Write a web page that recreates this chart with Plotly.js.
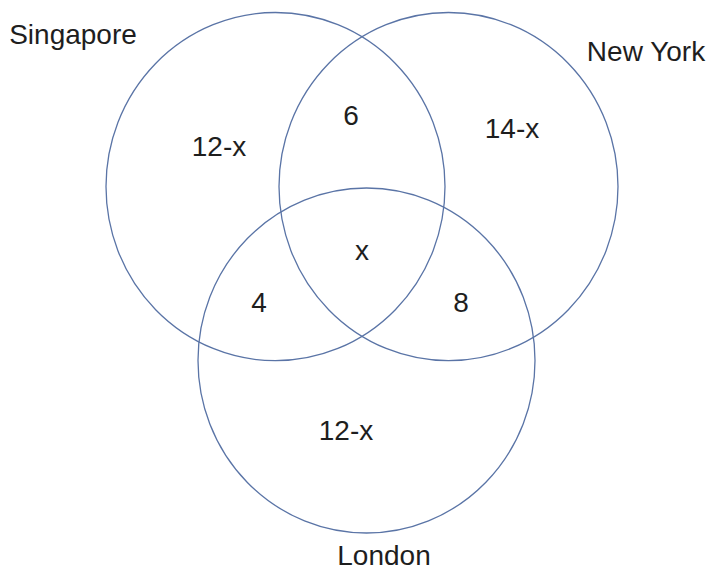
<!DOCTYPE html>
<html>
<head>
<meta charset="utf-8">
<script src="https://cdn.plot.ly/plotly-3.0.1.min.js"></script>
<style>html,body{margin:0;padding:0;background:#fff;}#chart{width:710px;height:572px;}</style>
</head>
<body>
<div id="chart"></div>
<script>
// Data
const setNames = ["Singapore", "New York", "London"];
const regionLabels = ["12-x", "6", "14-x", "x", "4", "8", "12-x"];

// Geometry (pixel-space layout of the diagram)
const circleBoxes = [
  [106, 12.5, 445, 360.7],
  [279, 12.5, 618, 360.7],
  [198, 188, 535, 533]
];
const setLabelPos = [[73, 37], [646, 54], [384, 558]];
const regionPos = [[219, 149], [351, 118], [512, 131], [362, 253], [259, 305], [461, 305], [346, 433]];

const lineColor = "#5a74a6";
const shapes = circleBoxes.map(b => ({
  type: "circle", xref: "x", yref: "y",
  x0: b[0], y0: b[1], x1: b[2], y1: b[3],
  line: {color: lineColor, width: 1.3}
}));

const font = {family: "Liberation Sans, Arial, sans-serif", size: 28, color: "#1e1e1e"};

const traces = [
  {
    type: "scatter", mode: "text",
    x: regionPos.map(p => p[0]), y: regionPos.map(p => p[1]),
    text: regionLabels, textfont: font,
    hoverinfo: "skip", showlegend: false
  },
  {
    type: "scatter", mode: "text",
    x: setLabelPos.map(p => p[0]), y: setLabelPos.map(p => p[1]),
    text: setNames, textfont: font,
    hoverinfo: "skip", showlegend: false
  }
];

const layout = {
  width: 710, height: 572,
  margin: {l: 0, r: 0, t: 0, b: 0},
  paper_bgcolor: "#ffffff", plot_bgcolor: "#ffffff",
  xaxis: {range: [0, 710], visible: false, fixedrange: true},
  yaxis: {range: [572, 0], visible: false, fixedrange: true},
  shapes: shapes,
  showlegend: false
};

Plotly.newPlot("chart", traces, layout, {staticPlot: true, displayModeBar: false});
</script>
</body>
</html>
